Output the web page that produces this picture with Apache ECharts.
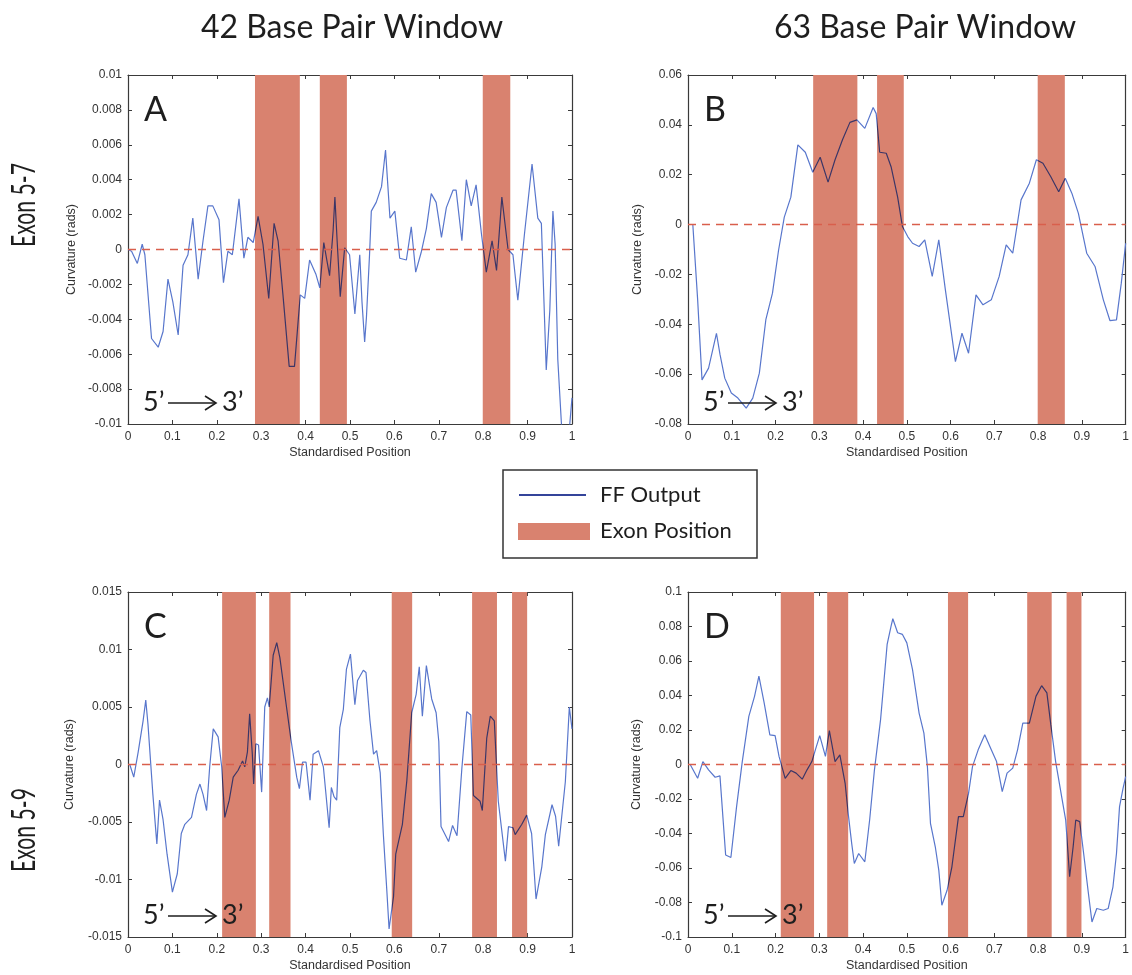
<!DOCTYPE html>
<html>
<head>
<meta charset="utf-8">
<title>Curvature along exons 5-7 and 5-9</title>
<script src="https://cdn.jsdelivr.net/npm/echarts@6/dist/echarts.min.js"></script>
<style>
  html, body { margin: 0; padding: 0; background: #ffffff; }
  #chart { width: 1132px; height: 975px; }
</style>
</head>
<body>
<div id="chart"></div>
<script>
// Exon positions (standardised start, end)
const exons57 = [[0.286, 0.387], [0.432, 0.493], [0.799, 0.861]];
const exons59 = [[0.212, 0.288], [0.318, 0.366], [0.594, 0.640], [0.775, 0.831], [0.865, 0.899]];

// Y axis ranges: [min, max, step]
const yRangeA = [-0.01, 0.01, 0.002];
const yRangeB = [-0.08, 0.06, 0.02];
const yRangeC = [-0.015, 0.015, 0.005];
const yRangeD = [-0.1, 0.1, 0.02];

// FF output curvature, exon 5-7, 42 bp window
const curveA = [[0,0],[0.008,-0.0001],[0.021,-0.0008],[0.032,0.0003],[0.038,-0.0003],[0.053,-0.0051],[0.068,-0.0056],[0.079,-0.0047],[0.090,-0.0017],[0.101,-0.0030],[0.113,-0.0049],[0.124,-0.0009],[0.135,-0.0003],[0.146,0.0018],[0.158,-0.0017],[0.169,0.0005],[0.180,0.0025],[0.191,0.0025],[0.205,0.0017],[0.215,-0.0019],[0.225,-0.0001],[0.235,-0.0003],[0.250,0.0029],[0.261,-0.0005],[0.270,0.0007],[0.282,0.0004],[0.293,0.0019],[0.304,0.0003],[0.317,-0.0028],[0.329,0.0015],[0.338,0.0005],[0.349,-0.0026],[0.363,-0.0067],[0.375,-0.0067],[0.388,-0.0026],[0.398,-0.0028],[0.409,-0.0006],[0.423,-0.0014],[0.432,-0.0022],[0.441,0.0004],[0.447,-0.0005],[0.454,-0.0015],[0.462,0.0011],[0.466,0.0030],[0.471,0.0005],[0.478,-0.0027],[0.488,0.0001],[0.499,-0.0003],[0.511,-0.0037],[0.522,-0.0003],[0.527,-0.0030],[0.533,-0.0053],[0.537,-0.0039],[0.544,-0.0003],[0.548,0.0022],[0.559,0.0027],[0.571,0.0036],[0.580,0.0057],[0.590,0.0018],[0.601,0.0022],[0.612,-0.0005],[0.627,-0.0006],[0.638,0.0013],[0.648,-0.0013],[0.661,-0.0001],[0.672,0.0012],[0.683,0.0032],[0.694,0.0027],[0.706,0.0007],[0.717,0.0024],[0.732,0.0034],[0.739,0.0034],[0.752,0.0005],[0.762,0.0040],[0.773,0.0025],[0.784,0.0037],[0.796,0.0009],[0.807,-0.0013],[0.820,0.0005],[0.830,-0.0012],[0.842,0.0030],[0.856,0.0000],[0.867,-0.0003],[0.878,-0.0029],[0.893,0.0009],[0.910,0.0049],[0.923,0.0018],[0.931,0.0015],[0.942,-0.0069],[0.950,-0.0035],[0.957,0.0022],[0.962,0.0003],[0.968,-0.0063],[0.976,-0.0099],[0.985,-0.0130],[1.0,-0.0085]];

// FF output curvature, exon 5-7, 63 bp window
const curveB = [[0.011,0],[0.022,-0.030],[0.032,-0.0623],[0.047,-0.0576],[0.065,-0.0436],[0.073,-0.052],[0.084,-0.0616],[0.099,-0.0676],[0.114,-0.0696],[0.133,-0.0736],[0.148,-0.0696],[0.163,-0.0596],[0.178,-0.038],[0.193,-0.0275],[0.207,-0.0102],[0.220,0.003],[0.235,0.011],[0.251,0.032],[0.268,0.029],[0.285,0.021],[0.302,0.027],[0.320,0.017],[0.336,0.026],[0.353,0.034],[0.370,0.041],[0.386,0.042],[0.404,0.0386],[0.423,0.047],[0.430,0.0445],[0.438,0.029],[0.453,0.0286],[0.464,0.0232],[0.479,0.011],[0.490,-0.0008],[0.502,-0.0048],[0.513,-0.0075],[0.528,-0.0088],[0.541,-0.0061],[0.558,-0.0208],[0.573,-0.0061],[0.588,-0.0261],[0.611,-0.055],[0.626,-0.0436],[0.641,-0.0516],[0.658,-0.0282],[0.674,-0.0322],[0.693,-0.0302],[0.711,-0.0208],[0.727,-0.0081],[0.742,-0.0115],[0.761,0.0099],[0.780,0.0166],[0.796,0.026],[0.811,0.0246],[0.829,0.0192],[0.847,0.0132],[0.862,0.0186],[0.877,0.0126],[0.892,0.0045],[0.911,-0.0115],[0.930,-0.0168],[0.949,-0.0302],[0.964,-0.0385],[0.979,-0.0382],[0.990,-0.0235],[1.0,-0.0075]];

// FF output curvature, exon 5-9, 42 bp window
const curveC = [[0.004,0],[0.013,-0.0011],[0.023,0.0011],[0.034,0.0038],[0.040,0.0056],[0.045,0.0035],[0.056,-0.0026],[0.065,-0.0069],[0.071,-0.0031],[0.079,-0.0048],[0.088,-0.0078],[0.100,-0.0111],[0.111,-0.0095],[0.120,-0.0060],[0.128,-0.0052],[0.143,-0.0046],[0.154,-0.0026],[0.162,-0.0017],[0.169,-0.0026],[0.177,-0.0040],[0.184,-0.0002],[0.192,0.0031],[0.203,0.0024],[0.211,-0.0002],[0.218,-0.0046],[0.228,-0.0031],[0.237,-0.0011],[0.248,-0.0005],[0.258,0.0003],[0.263,-0.0002],[0.269,0.0011],[0.274,0.0044],[0.280,0.0009],[0.283,-0.0017],[0.288,0.0018],[0.294,0.0017],[0.301,-0.0024],[0.308,0.0050],[0.314,0.0058],[0.318,0.0050],[0.327,0.0095],[0.335,0.0106],[0.342,0.0093],[0.357,0.0050],[0.368,0.0019],[0.380,-0.0011],[0.386,-0.0021],[0.393,0.0002],[0.401,0.0002],[0.410,-0.0031],[0.417,0.0009],[0.429,0.0012],[0.440,-0.0002],[0.453,-0.0055],[0.458,-0.0020],[0.464,-0.0028],[0.470,-0.0031],[0.477,0.0032],[0.485,0.0048],[0.492,0.0083],[0.501,0.0096],[0.511,0.0052],[0.517,0.0073],[0.530,0.0082],[0.536,0.0080],[0.545,0.0038],[0.553,0.0009],[0.560,0.0012],[0.568,-0.0007],[0.575,-0.0060],[0.583,-0.0110],[0.588,-0.0143],[0.598,-0.0115],[0.603,-0.0078],[0.618,-0.0052],[0.628,-0.0014],[0.639,0.0045],[0.649,0.0061],[0.656,0.0085],[0.663,0.0042],[0.672,0.0086],[0.684,0.0057],[0.694,0.0045],[0.700,0.0020],[0.705,-0.0054],[0.722,-0.0067],[0.731,-0.0053],[0.741,-0.0062],[0.752,-0.0003],[0.763,0.0046],[0.772,0.0043],[0.778,-0.0027],[0.793,-0.0032],[0.798,-0.0040],[0.808,0.0023],[0.816,0.0042],[0.825,0.0038],[0.834,-0.0032],[0.850,-0.0084],[0.857,-0.0054],[0.867,-0.0055],[0.872,-0.0061],[0.887,-0.0052],[0.898,-0.0044],[0.909,-0.0060],[0.919,-0.0117],[0.932,-0.0089],[0.940,-0.0061],[0.955,-0.0035],[0.963,-0.0045],[0.970,-0.0071],[0.985,-0.0015],[0.994,0.0050],[1.0,0.0031]];

// FF output curvature, exon 5-9, 63 bp window
const curveD = [[0.005,0],[0.022,-0.008],[0.034,0.0017],[0.047,-0.0031],[0.062,-0.0074],[0.073,-0.0066],[0.086,-0.0525],[0.098,-0.0539],[0.111,-0.0244],[0.124,0.0017],[0.139,0.0279],[0.152,0.0395],[0.162,0.0512],[0.174,0.0357],[0.187,0.0172],[0.199,0.0167],[0.208,0.0047],[0.222,-0.008],[0.235,-0.0035],[0.247,-0.005],[0.261,-0.0085],[0.272,-0.0031],[0.283,0.0017],[0.291,0.0085],[0.301,0.0167],[0.314,0.0047],[0.323,0.0196],[0.336,0.0017],[0.347,0.0056],[0.359,-0.0109],[0.366,-0.0283],[0.374,-0.0457],[0.380,-0.0574],[0.390,-0.0516],[0.404,-0.0564],[0.415,-0.0322],[0.426,-0.0031],[0.440,0.026],[0.455,0.0696],[0.464,0.0802],[0.468,0.0845],[0.479,0.0764],[0.490,0.0754],[0.500,0.0705],[0.513,0.055],[0.528,0.0298],[0.539,0.0182],[0.547,-0.0012],[0.554,-0.0341],[0.565,-0.0477],[0.573,-0.0612],[0.580,-0.0816],[0.592,-0.0729],[0.603,-0.0593],[0.618,-0.0302],[0.629,-0.0302],[0.641,-0.0167],[0.650,-0.0012],[0.663,0.0085],[0.678,0.0172],[0.693,0.0085],[0.705,0.0017],[0.718,-0.0157],[0.729,-0.005],[0.742,-0.0021],[0.753,0.0085],[0.765,0.024],[0.780,0.024],[0.795,0.0395],[0.808,0.0457],[0.820,0.0415],[0.829,0.0231],[0.840,0.0017],[0.855,-0.0205],[0.863,-0.0322],[0.872,-0.0651],[0.880,-0.0477],[0.886,-0.0322],[0.895,-0.0331],[0.904,-0.0516],[0.914,-0.0729],[0.923,-0.0913],[0.934,-0.0835],[0.949,-0.0845],[0.960,-0.0835],[0.971,-0.0709],[0.979,-0.0516],[0.986,-0.0244],[0.994,-0.0138],[1.0,-0.007]];

// ---- styling ----
const LINE_BLUE = '#5876cc';
const LINE_DARK = '#3b3566';
const EXON_FILL = '#d9826f';
const ZERO_RED = '#d95f4c';
const AXIS_COL = '#3a3a3a';
const INK = '#1e1e1e';
const SMALL_FONT = '"Liberation Sans", Arial, sans-serif';
const BIG_FONT = 'Lato, "Open Sans", sans-serif';

const panels = [
  { letter: 'A', curve: curveA, exons: exons57, y: yRangeA, grid: { left: 128, top: 75, width: 444, height: 349 }, nameGap: 50 },
  { letter: 'B', curve: curveB, exons: exons57, y: yRangeB, grid: { left: 688, top: 75, width: 443, height: 349 }, nameGap: 44 },
  { letter: 'C', curve: curveC, exons: exons59, y: yRangeC, grid: { left: 128, top: 592, width: 444, height: 345 }, nameGap: 52 },
  { letter: 'D', curve: curveD, exons: exons59, y: yRangeD, grid: { left: 688, top: 592, width: 443, height: 345 }, nameGap: 45 }
];

const tickFmt = v => String(Math.round(v * 1e6) / 1e6);
const smallText = { fontFamily: SMALL_FONT, fontSize: 12, color: '#333' };

const grids = [], xAxes = [], yAxes = [], series = [], visualMaps = [], graphics = [];

// text element helper for the overlay annotations
const label = (text, x, y, size, extra) => Object.assign({
  type: 'text', x: x, y: y, z: 100,
  style: { text: text, font: size + 'px ' + BIG_FONT, fill: INK, align: 'left', verticalAlign: 'middle' }
}, extra || {});

panels.forEach((p, i) => {
  grids.push(Object.assign({ containLabel: false }, p.grid));
  const line = { show: true, onZero: false, lineStyle: { color: AXIS_COL, width: 1.2 } };
  const tick = { show: true, inside: true, length: 4, lineStyle: { color: AXIS_COL, width: 1 } };
  xAxes.push({
    type: 'value', gridIndex: i, position: 'bottom', min: 0, max: 1, interval: 0.1,
    axisLine: line, axisTick: tick, splitLine: { show: false },
    axisLabel: Object.assign({ margin: 7, formatter: tickFmt }, smallText),
    name: 'Standardised Position', nameLocation: 'middle', nameGap: 22,
    nameTextStyle: { fontFamily: SMALL_FONT, fontSize: 12.5, color: '#333' }
  });
  xAxes.push({
    type: 'value', gridIndex: i, position: 'top', min: 0, max: 1, interval: 0.1,
    axisLine: line, axisTick: tick, splitLine: { show: false }, axisLabel: { show: false }
  });
  yAxes.push({
    type: 'value', gridIndex: i, position: 'left', min: p.y[0], max: p.y[1], interval: p.y[2],
    axisLine: line, axisTick: tick, splitLine: { show: false },
    axisLabel: Object.assign({ margin: 6, formatter: tickFmt }, smallText),
    name: 'Curvature (rads)', nameLocation: 'middle', nameGap: p.nameGap,
    nameTextStyle: { fontFamily: SMALL_FONT, fontSize: 12.5, color: '#333' }
  });
  yAxes.push({
    type: 'value', gridIndex: i, position: 'right', min: p.y[0], max: p.y[1], interval: p.y[2],
    axisLine: line, axisTick: tick, splitLine: { show: false }, axisLabel: { show: false }
  });

  // exon bands spanning the full height of the plot
  series.push({
    type: 'custom', name: 'Exon Position', xAxisIndex: 2 * i, yAxisIndex: 2 * i,
    data: p.exons, silent: true, z: 2,
    encode: { x: [0, 1] },
    renderItem: (params, api) => {
      const cs = params.coordSys;
      const x0 = api.coord([api.value(0), p.y[0]])[0];
      const x1 = api.coord([api.value(1), p.y[0]])[0];
      return { type: 'rect', shape: { x: x0, y: cs.y, width: x1 - x0, height: cs.height }, style: { fill: EXON_FILL } };
    }
  });
  // curvature trace
  const lineIdx = series.length;
  series.push({
    type: 'line', name: 'FF Output', xAxisIndex: 2 * i, yAxisIndex: 2 * i,
    data: p.curve, showSymbol: false, symbol: 'none', z: 3, silent: true,
    lineStyle: { width: 1.2 },
    markLine: {
      silent: true, symbol: 'none', label: { show: false },
      lineStyle: { type: [8, 6], color: ZERO_RED, width: 1.3 },
      data: [{ yAxis: 0 }]
    }
  });
  // trace is darker where it passes over an exon band
  visualMaps.push({
    type: 'piecewise', show: false, seriesIndex: lineIdx, dimension: 0,
    pieces: p.exons.map(e => ({ gte: e[0], lte: e[1], color: LINE_DARK })),
    outOfRange: { color: LINE_BLUE }
  });

  // panel letter
  graphics.push(label(p.letter, p.grid.left + 16, p.grid.top + 35, 34));
  // 5' -> 3' direction marker
  const ax = p.grid.left, ay = p.grid.top + p.grid.height - 22;
  graphics.push(
    label('5\u2019', ax + 15, ay, 27),
    { type: 'line', z: 100, shape: { x1: ax + 40, y1: ay + 1, x2: ax + 87, y2: ay + 1 }, style: { stroke: INK, lineWidth: 1.6 } },
    { type: 'polyline', z: 100, shape: { points: [[ax + 77, ay - 6], [ax + 88, ay + 1], [ax + 77, ay + 8]] }, style: { stroke: INK, lineWidth: 1.6, fill: null } },
    label('3\u2019', ax + 94, ay, 27)
  );
});

// column and row headings
const centred = { align: 'center', verticalAlign: 'middle' };
const heading = (text, x, y, extra) => {
  const el = label(text, x, y, 32, extra);
  Object.assign(el.style, centred);
  return el;
};
graphics.push(
  heading('42 Base Pair Window', 352, 28),
  heading('63 Base Pair Window', 925, 28),
  heading('Exon 5-7', 25, 205, { rotation: Math.PI / 2, scaleX: 0.66 }),
  heading('Exon 5-9', 25, 830, { rotation: Math.PI / 2, scaleX: 0.66 })
);

// shared key
graphics.push(
  { type: 'rect', z: 100, shape: { x: 503, y: 470, width: 254, height: 88 }, style: { fill: '#ffffff', stroke: '#333', lineWidth: 1.5 } },
  { type: 'line', z: 101, shape: { x1: 519, y1: 495, x2: 586, y2: 495 }, style: { stroke: '#34449a', lineWidth: 2 } },
  Object.assign(label('FF Output', 600, 495, 22), { z: 101 }),
  { type: 'rect', z: 101, shape: { x: 518, y: 523, width: 72, height: 17 }, style: { fill: EXON_FILL } },
  Object.assign(label('Exon Position', 600, 531, 22), { z: 101 })
);

const chart = echarts.init(document.getElementById('chart'), null, { renderer: 'canvas' });
chart.setOption({
  backgroundColor: '#ffffff',
  animation: false,
  grid: grids,
  xAxis: xAxes,
  yAxis: yAxes,
  visualMap: visualMaps,
  series: series,
  graphic: graphics
});
</script>
</body>
</html>
